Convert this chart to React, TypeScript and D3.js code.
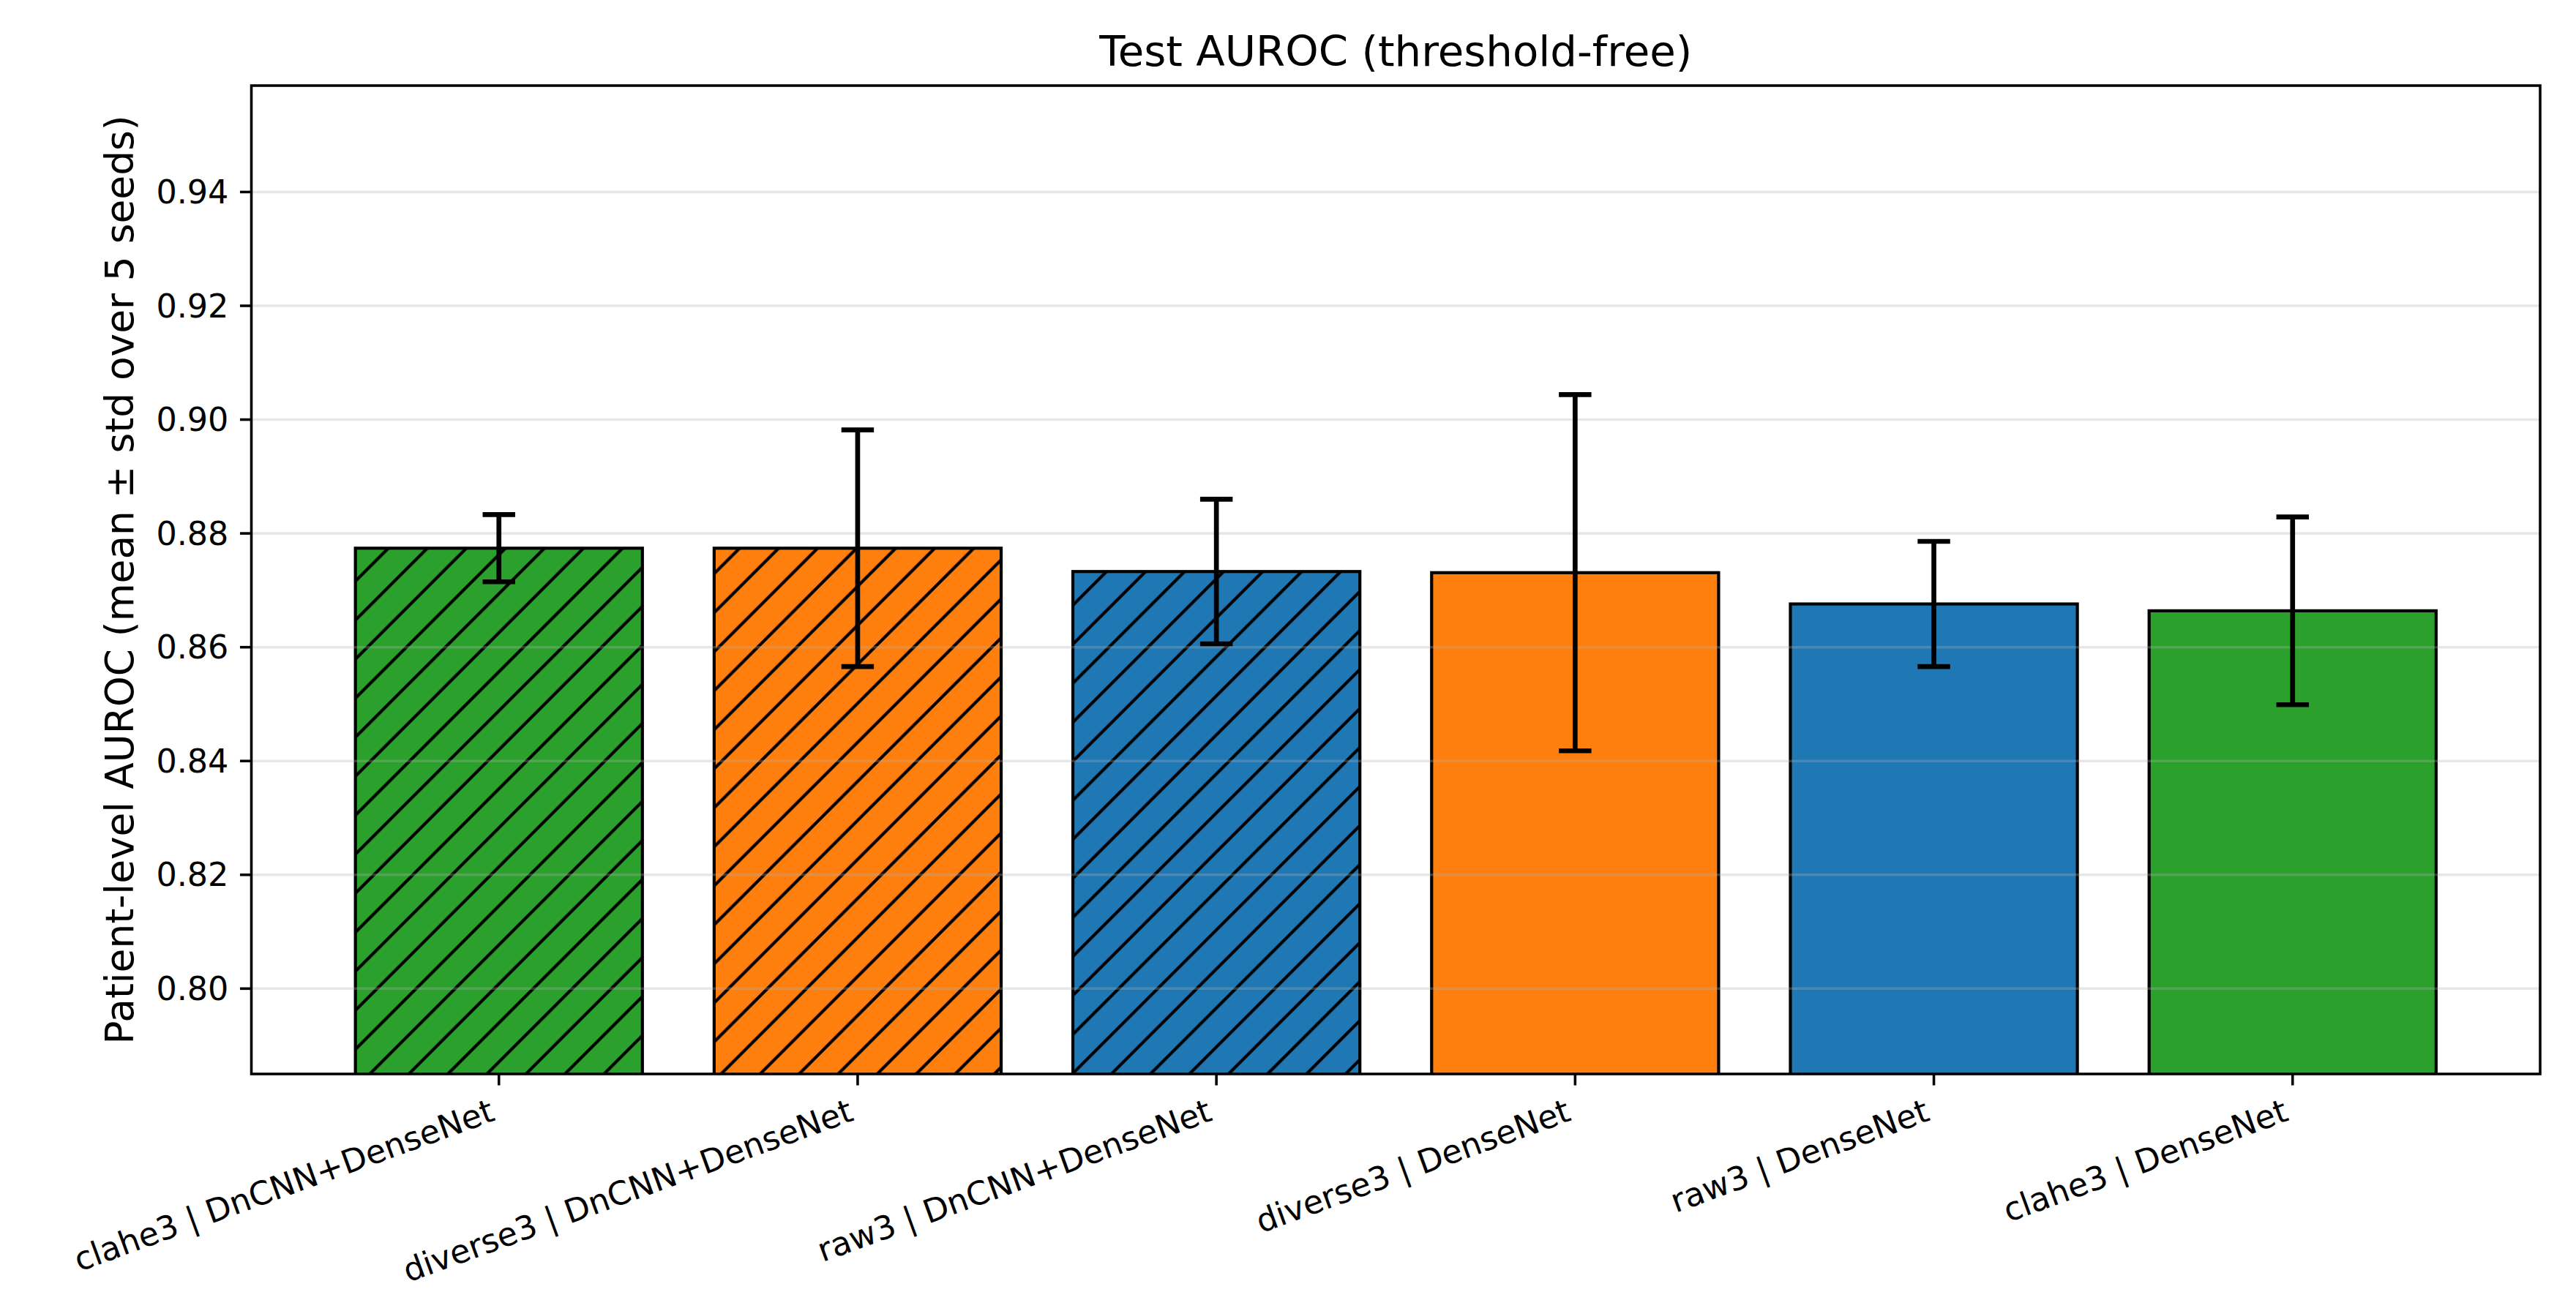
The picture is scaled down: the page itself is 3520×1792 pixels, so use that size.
import React from "react";
import * as d3 from "d3";

const categories = [
  "clahe3 | DnCNN+DenseNet",
  "diverse3 | DnCNN+DenseNet",
  "raw3 | DnCNN+DenseNet",
  "diverse3 | DenseNet",
  "raw3 | DenseNet",
  "clahe3 | DenseNet",
];
const means = [0.8774, 0.8774, 0.8733, 0.8731, 0.8676, 0.8664];
const stds = [0.0059, 0.0208, 0.0127, 0.0313, 0.0110, 0.0165];
const colors = ["#2ca02c", "#ff7f0e", "#1f77b4", "#ff7f0e", "#1f77b4", "#2ca02c"];
const hatched = [true, true, true, false, false, false];
const yTicks = [0.8, 0.82, 0.84, 0.86, 0.88, 0.9, 0.92, 0.94];

const W = 3520;
const H = 1792;
const L = 343.5;
const R = 3471;
const T = 117;
const B = 1468;
const PT = 320 / 72;

export default function App() {
  const x = d3.scaleLinear().domain([-0.69, 5.69]).range([L, R]);
  const y = d3.scaleLinear().domain([0.785, 0.9587]).range([B, T]);
  const bw = x(0.8) - x(0);
  const fs = 10 * PT;
  const s = 320 / 6;
  const th = (20 * Math.PI) / 180;
  const lblY = B + 3.5 * PT + 3.5 * PT;
  const a = 0.76 * fs;
  const dsc = 0.24 * fs;
  return (
    <svg
      width={W}
      height={H}
      style={{ position: "absolute", left: 0, top: 0, background: "#fff" }}
      fontFamily="DejaVu Sans"
    >
      <defs>
        <pattern id="hatch" patternUnits="userSpaceOnUse" x={0} y={0} width={s} height={s}>
          <path
            d={`M -6,6 L 6,-6 M 0,${s} L ${s},0 M ${s - 6},${s + 6} L ${s + 6},${s - 6}`}
            stroke="#000"
            strokeWidth={4.2}
            fill="none"
          />
        </pattern>
        <clipPath id="plotclip">
          <rect x={L} y={T} width={R - L} height={B - T} />
        </clipPath>
      </defs>
      <rect x={0} y={0} width={W} height={H} fill="#fff" />
      <g clipPath="url(#plotclip)">
        {means.map((m, i) => (
          <g key={"bar" + i}>
            <rect x={x(i) - bw / 2} y={y(m)} width={bw} height={B - y(m) + 10} fill={colors[i]} />
            {hatched[i] && (
              <rect x={x(i) - bw / 2} y={y(m)} width={bw} height={B - y(m) + 10} fill="url(#hatch)" />
            )}
            <rect
              x={x(i) - bw / 2}
              y={y(m)}
              width={bw}
              height={B - y(m) + 10}
              fill="none"
              stroke="#000"
              strokeWidth={4.2}
            />
          </g>
        ))}
        {yTicks.map((t) => (
          <line
            key={"g" + t}
            x1={L}
            x2={R}
            y1={y(t)}
            y2={y(t)}
            stroke="#b0b0b0"
            strokeOpacity={0.3}
            strokeWidth={0.8 * PT}
          />
        ))}
        {means.map((m, i) => (
          <g key={"err" + i} stroke="#000" strokeWidth={1.5 * PT}>
            <line x1={x(i)} x2={x(i)} y1={y(m - stds[i])} y2={y(m + stds[i])} />
            <line x1={x(i) - 5 * PT} x2={x(i) + 5 * PT} y1={y(m - stds[i])} y2={y(m - stds[i])} />
            <line x1={x(i) - 5 * PT} x2={x(i) + 5 * PT} y1={y(m + stds[i])} y2={y(m + stds[i])} />
          </g>
        ))}
      </g>
      <rect x={L} y={T} width={R - L} height={B - T} fill="none" stroke="#000" strokeWidth={0.8 * PT} />
      {yTicks.map((t) => (
        <g key={"yt" + t}>
          <line x1={L - 3.5 * PT} x2={L} y1={y(t)} y2={y(t)} stroke="#000" strokeWidth={0.8 * PT} />
          <text
            x={L - 7 * PT}
            y={y(t)}
            fontSize={fs}
            textAnchor="end"
            dominantBaseline="central"
            fill="#000"
          >
            {t.toFixed(2)}
          </text>
        </g>
      ))}
      {categories.map((c, i) => (
        <g key={"xt" + i}>
          <line x1={x(i)} x2={x(i)} y1={B} y2={B + 3.5 * PT} stroke="#000" strokeWidth={0.8 * PT} />
          <text
            transform={`translate(${x(i) - dsc * Math.sin(th)},${lblY + a * Math.cos(th)}) rotate(-20)`}
            fontSize={fs}
            textAnchor="end"
            fill="#000"
          >
            {c}
          </text>
        </g>
      ))}
      <text x={(L + R) / 2} y={T - 6 * PT} fontSize={13 * PT} textAnchor="middle" fill="#000">
        Test AUROC (threshold-free)
      </text>
      <text
        transform={`translate(${182},${(T + B) / 2}) rotate(-90)`}
        fontSize={12 * PT}
        textAnchor="middle"
        fill="#000"
      >
        Patient-level AUROC (mean ± std over 5 seeds)
      </text>
    </svg>
  );
}
